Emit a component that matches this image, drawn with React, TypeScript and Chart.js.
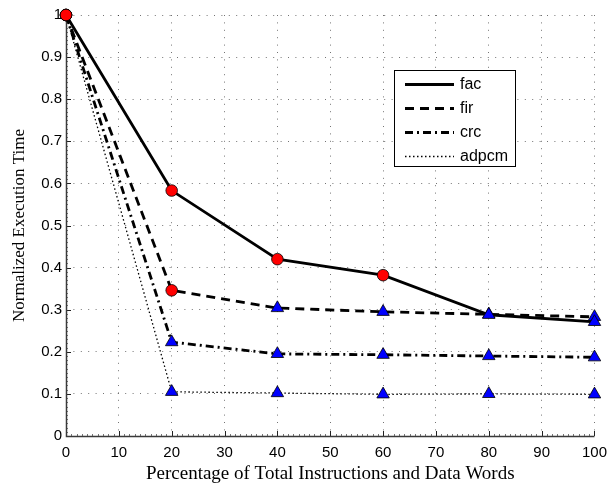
import React, { useEffect, useRef } from 'react';
import { Chart, registerables } from 'chart.js';

Chart.register(...registerables);

// ---- data ----
const xValues = [0, 20, 40, 60, 80, 100];
const facValues = [1, 0.583, 0.42, 0.382, 0.288, 0.271];
const firValues = [1, 0.346, 0.304, 0.295, 0.289, 0.283];
const crcValues = [1, 0.223, 0.195, 0.193, 0.19, 0.187];
const adpcmValues = [1, 0.105, 0.102, 0.099, 0.1, 0.099];
const seriesNames = ['fac', 'fir', 'crc', 'adpcm'];
// marker kind per point: 'o' = red circle, '^' = blue triangle
const facMarkers = ['o', 'o', 'o', 'o', '^', '^'];
const firMarkers = ['o', 'o', '^', '^', '^', '^'];
const crcMarkers = ['o', '^', '^', '^', '^', '^'];
const adpcmMarkers = ['o', '^', '^', '^', '^', '^'];
const xAxisTitle = 'Percentage of Total Instructions and Data Words';
const yAxisTitle = 'Normalized Execution Time';

// ---- styles ----
const lineStyles = [
  { width: 2.8, dash: [] as number[] },
  { width: 2.8, dash: [9, 6] },
  { width: 2.8, dash: [8, 4, 2, 4] },
  { width: 1.3, dash: [1.5, 2.5] },
];

const SANS = '"Liberation Sans", Arial, Helvetica, sans-serif';
const SERIF = '"Liberation Serif", "Times New Roman", serif';

function makeDataset(label: string, values: number[], markers: string[], style: { width: number; dash: number[] }) {
  return {
    label,
    data: xValues.map((x, i) => ({ x, y: values[i] })),
    borderColor: '#000',
    borderWidth: style.width,
    borderDash: style.dash,
    fill: false,
    tension: 0,
    clip: false,
    pointStyle: markers.map((m) => (m === 'o' ? 'circle' : 'triangle')),
    pointRadius: markers.map((m) => (m === 'o' ? 5.8 : 7.2)),
    pointBackgroundColor: markers.map((m) => (m === 'o' ? '#ff0000' : '#0000ff')),
    pointBorderColor: '#000',
    pointBorderWidth: 0.8,
  };
}

const axesPlugin = {
  id: 'matlabAxes',
  beforeDatasetsDraw(chart: any) {
    const { ctx, chartArea, scales } = chart;
    const xs = scales.x;
    const ys = scales.y;
    ctx.save();
    ctx.lineWidth = 1;
    ctx.setLineDash([]);
    // minor ticks
    ctx.strokeStyle = '#777';
    ctx.beginPath();
    for (let v = 0; v <= 100; v += 1) {
      const px = Math.round(xs.getPixelForValue(v)) + 0.5;
      ctx.moveTo(px, chartArea.bottom);
      ctx.lineTo(px, chartArea.bottom - 2);
    }
    for (let k = 0; k <= 100; k += 1) {
      const py = Math.round(ys.getPixelForValue(k / 100)) + 0.5;
      ctx.moveTo(chartArea.left, py);
      ctx.lineTo(chartArea.left + 2, py);
    }
    ctx.stroke();
    // major ticks
    ctx.strokeStyle = '#222';
    ctx.beginPath();
    for (let v = 0; v <= 100; v += 10) {
      const px = Math.round(xs.getPixelForValue(v)) + 0.5;
      ctx.moveTo(px, chartArea.bottom);
      ctx.lineTo(px, chartArea.bottom - 5);
    }
    for (let k = 0; k <= 10; k += 1) {
      const py = Math.round(ys.getPixelForValue(k / 10)) + 0.5;
      ctx.moveTo(chartArea.left, py);
      ctx.lineTo(chartArea.left + 5, py);
    }
    ctx.stroke();
    // axis lines
    ctx.strokeStyle = '#3a3a3a';
    ctx.lineWidth = 1.5;
    ctx.beginPath();
    ctx.moveTo(chartArea.left + 0.5, chartArea.top);
    ctx.lineTo(chartArea.left + 0.5, chartArea.bottom + 0.5);
    ctx.lineTo(chartArea.right, chartArea.bottom + 0.5);
    ctx.stroke();
    ctx.restore();
  },
};

const legendPlugin = {
  id: 'insideLegend',
  afterDatasetsDraw(chart: any) {
    const { ctx } = chart;
    const box = { left: 394.5, top: 70.5, right: 515.5, bottom: 166.5 };
    ctx.save();
    ctx.setLineDash([]);
    ctx.fillStyle = '#fff';
    ctx.fillRect(box.left, box.top, box.right - box.left, box.bottom - box.top);
    ctx.strokeStyle = '#000';
    ctx.lineWidth = 1;
    ctx.strokeRect(box.left, box.top, box.right - box.left, box.bottom - box.top);
    chart.data.datasets.forEach((ds: any, i: number) => {
      const y = box.top + 14 + i * 24;
      ctx.beginPath();
      ctx.lineWidth = ds.borderWidth;
      ctx.strokeStyle = '#000';
      ctx.setLineDash(ds.borderDash || []);
      ctx.moveTo(405, y);
      ctx.lineTo(454, y);
      ctx.stroke();
      ctx.setLineDash([]);
      ctx.fillStyle = '#000';
      ctx.font = `16px ${SANS}`;
      ctx.textAlign = 'left';
      ctx.textBaseline = 'middle';
      ctx.fillText(ds.label, 460, y);
    });
    ctx.restore();
  },
};

export default function App() {
  const canvasRef = useRef<HTMLCanvasElement | null>(null);

  useEffect(() => {
    if (!canvasRef.current) return;
    const chart = new Chart(canvasRef.current, {
      type: 'line',
      data: {
        datasets: [
          makeDataset(seriesNames[0], facValues, facMarkers, lineStyles[0]),
          makeDataset(seriesNames[1], firValues, firMarkers, lineStyles[1]),
          makeDataset(seriesNames[2], crcValues, crcMarkers, lineStyles[2]),
          makeDataset(seriesNames[3], adpcmValues, adpcmMarkers, lineStyles[3]),
        ],
      },
      options: {
        animation: false,
        responsive: false,
        devicePixelRatio: 1,
        layout: { padding: { top: 15, right: 15, left: 0, bottom: 0 } },
        plugins: { legend: { display: false }, tooltip: { enabled: false } },
        scales: {
          x: {
            type: 'linear',
            min: 0,
            max: 100,
            afterFit: (s: any) => {
              s.height = 49;
            },
            ticks: { stepSize: 10, color: '#000', padding: 8, font: { family: SANS, size: 15 }, maxRotation: 0 },
            grid: { color: 'rgba(0,0,0,0.55)', lineWidth: 1, drawTicks: false },
            border: { display: false, dash: [1, 6.4] },
            title: { display: true, text: xAxisTitle, color: '#000', font: { family: SERIF, size: 19 }, padding: { top: 0, bottom: 0 } },
          },
          y: {
            type: 'linear',
            min: 0,
            max: 1,
            afterFit: (s: any) => {
              s.width = 66;
            },
            ticks: {
              stepSize: 0.1,
              color: '#000',
              padding: 4,
              font: { family: SANS, size: 15 },
              callback: (v: any) => String(Math.round(Number(v) * 10) / 10),
            },
            grid: { color: 'rgba(0,0,0,0.55)', lineWidth: 1, drawTicks: false },
            border: { display: false, dash: [1, 6.4] },
            title: { display: true, text: yAxisTitle, color: '#000', font: { family: SERIF, size: 17 }, padding: { top: 9, bottom: 0 } },
          },
        },
      },
      plugins: [axesPlugin, legendPlugin],
    });
    return () => chart.destroy();
  }, []);

  return (
    <div style={{ position: 'absolute', left: 0, top: 0, width: 615, height: 485, background: '#fff' }}>
      <canvas ref={canvasRef} width={615} height={485} style={{ width: 615, height: 485 }} />
    </div>
  );
}
